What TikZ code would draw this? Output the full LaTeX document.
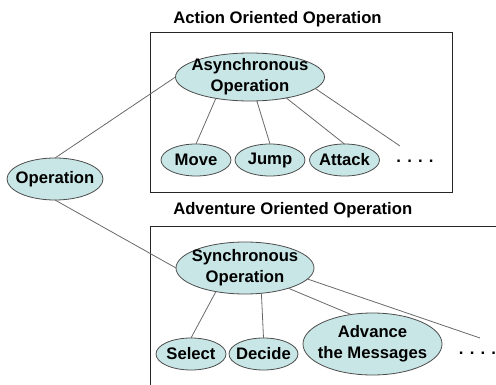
\documentclass[tikz,border=0pt]{standalone}
\usepackage{fontspec}
\setmainfont{Liberation Sans}
\usepackage{tikz}
\usetikzlibrary{shapes.geometric}
\definecolor{ovalfill}{RGB}{200,230,230}
\definecolor{ovalline}{RGB}{75,75,75}
\definecolor{linkgray}{RGB}{105,105,105}

\begin{document}
\begin{tikzpicture}[x=0.75pt, y=-0.75pt,
      oval/.style = {
        ellipse, draw=ovalline, fill=ovalfill, line width=0.6pt,
        inner sep=0pt, outer sep=0pt },
      every label/.style = {
        font=\fontsize{12.5}{15.75}\selectfont\bfseries, align=center,
        inner sep=0pt },
      heading/.style = {
        anchor=base west, inner sep=0pt,
        font=\fontsize{12.5}{15}\selectfont\bfseries },
      more/.style = {
        anchor=base, inner sep=0pt,
        font=\fontsize{12.5}{15}\selectfont\bfseries },
      frame/.style = { draw=black!85, line width=0.75pt },
      line/.style = { draw=linkgray, line width=0.6pt }]
    \useasboundingbox (0,0) rectangle (496,385);
    % action oriented part
    \node [heading] (actiontitle) at (173,24) {Action Oriented Operation};
    \draw [frame] (150,33) rectangle (452,192);
    \node [oval, minimum width=72pt, minimum height=31.5pt,
      label=center:Operation] (operation) at (55,179) {};
    \node [oval, minimum width=111.75pt, minimum height=36pt,
      label={center:Asynchronous\\Operation}] (async) at (250,77) {};
    \node [oval, minimum width=52.5pt, minimum height=24pt,
      label=center:Move] (move) at (196,160) {};
    \node [oval, minimum width=52.5pt, minimum height=24pt,
      label=center:Jump] (jump) at (270,160) {};
    \node [oval, minimum width=52.5pt, minimum height=24pt,
      label=center:Attack] (attack) at (344.5,160) {};
    \node [more] (moreaction) at (415,162) {. . . .};
    \coordinate (moreactiontip) at (400,146);
    % adventure oriented part
    \node [heading] (adventuretitle) at (173,214) {Adventure Oriented Operation};
    \begin{scope}
      \clip (0,0) rectangle (496,385);
      \draw [frame] (150,226) rectangle (510,400);
    \end{scope}
    \node [oval, minimum width=103.5pt, minimum height=39pt,
      label={center:Synchronous\\Operation}] (sync) at (245,268) {};
    \node [oval, minimum width=52.5pt, minimum height=24pt,
      label=center:Select] (select) at (191,354) {};
    \node [oval, minimum width=51.75pt, minimum height=24pt,
      label=center:Decide] (decide) at (263.5,354) {};
    \node [oval, minimum width=104.25pt, minimum height=46.5pt,
      label={center:Advance\\the Messages}] (advance) at (372.5,344) {};
    \node [more] (moreadventure) at (477.5,354) {. . . .};
    \coordinate (moreadventuretip) at (480,338);
    % connect all nodes defined above
    \draw [line] (operation.north) -- (async.west);
    \draw [line] (operation.south) -- (sync.west);
    \draw [line] (async.212) -- (move.north);
    \draw [line] (async.286) -- (jump.north);
    \draw [line] (async.330) -- (attack.north);
    \draw [line] (async.350) -- (moreactiontip);
    \draw [line] (sync.219) -- (select.north);
    \draw [line] (sync.303) -- (decide.north);
    \draw [line] (sync.335) -- (advance.126);
    \draw [line] (sync.350) -- (moreadventuretip);
  \end{tikzpicture}
\end{document}
